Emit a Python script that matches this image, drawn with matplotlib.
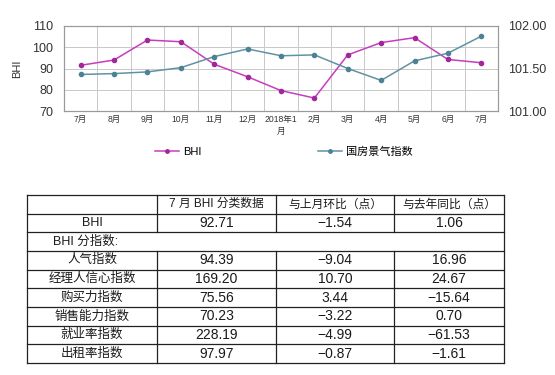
import matplotlib
matplotlib.use("Agg")
import matplotlib.pyplot as plt
from matplotlib.lines import Line2D

plt.rcParams['font.family'] = ['Liberation Sans', 'Noto Sans CJK SC', 'DejaVu Sans']

months = ["7月", "8月", "9月", "10月", "11月", "12月", "2018年1\n月", "2月", "3月", "4月", "5月", "6月", "7月"]
bhi = [91.5, 94.0, 103.4, 102.6, 92.0, 86.1, 79.6, 76.1, 96.4, 102.2, 104.5, 94.25, 92.71]
guofang = [101.43, 101.44, 101.46, 101.51, 101.64, 101.73, 101.65, 101.66, 101.50, 101.36, 101.59, 101.68, 101.88]

table_header = ["", "7 月 BHI 分类数据", "与上月环比（点）", "与去年同比（点）"]
table_names = ["BHI", "人气指数", "经理人信心指数", "购买力指数", "销售能力指数", "就业率指数", "出租率指数"]
table_values = ["92.71", "94.39", "169.20", "75.56", "70.23", "228.19", "97.97"]
table_mom = ["-1.54", "-9.04", "10.70", "3.44", "-3.22", "-4.99", "-0.87"]
table_yoy = ["1.06", "16.96", "24.67", "-15.64", "0.70", "-61.53", "-1.61"]
sub_title = "BHI 分指数:"

W, H = 555, 375
fig = plt.figure(figsize=(W / 100, H / 100), dpi=100)
fig.patch.set_facecolor("white")

# ---- chart ----
ax = fig.add_axes([64 / W, 1 - 111 / H, (498 - 64) / W, (111 - 26) / H])
ax2 = ax.twinx()
x = [i + 0.5 for i in range(len(months))]
c_bhi = "#c83cc0"
c_gf = "#5f93a3"
ax.plot(x, bhi, color=c_bhi, lw=1.1, marker="o", ms=3, mfc="#a0289a", mec="#a0289a", zorder=3)
ax2.plot(x, guofang, color=c_gf, lw=1.1, marker="o", ms=3, mfc="#4c8196", mec="#4c8196", zorder=3)
ax.set_xlim(0, len(months))
ax.set_ylim(70, 110)
ax2.set_ylim(101.0, 102.0)
ax.set_yticks([70, 80, 90, 100, 110])
ax2.set_yticks([101.0, 101.5, 102.0])
ax2.set_yticklabels(["101.00", "101.50", "102.00"])
ax.set_xticks(range(1, len(months)), minor=False)
ax.set_xticklabels([])
ax.grid(True, color="#c8c8c8", lw=0.7)
ax.tick_params(axis="x", length=0)
ax.tick_params(axis="y", length=0, labelsize=9, colors="#333333", pad=8)
ax2.tick_params(axis="y", length=0, labelsize=9, colors="#333333", pad=7)
for a in (ax, ax2):
    for s in a.spines.values():
        s.set_color("#9a9a9a")
        s.set_linewidth(0.8)
for xi, m in zip(x, months):
    ax.text(xi, -0.045, m, transform=ax.get_xaxis_transform(), ha="center", va="top",
            fontsize=6.2, color="#333333", linespacing=1.5)
ax.set_ylabel("BHI", fontsize=8, color="#333333", labelpad=7)

fig.legend(handles=[Line2D([], [], color=c_bhi, marker="o", ms=2.5, lw=1.1, mfc="#a0289a", mec="#a0289a")],
           labels=["BHI"], loc="center", bbox_to_anchor=(178 / W, 1 - 152 / H), frameon=False,
           fontsize=8, handlelength=2.2, handletextpad=0.3)
fig.legend(handles=[Line2D([], [], color=c_gf, marker="o", ms=2.5, lw=1.1, mfc="#4c8196", mec="#4c8196")],
           labels=["国房景气指数"], loc="center", bbox_to_anchor=(365 / W, 1 - 152 / H), frameon=False,
           fontsize=8, handlelength=2.2, handletextpad=0.3)

# ---- table ----
tax = fig.add_axes([0, 0, 1, 1])
tax.set_xlim(0, W)
tax.set_ylim(H, 0)
tax.axis("off")
left, right = 27, 504
cols = [27, 157, 276, 394, 504]
top, bottom = 195, 363
n_rows = 9
rh = (bottom - top) / n_rows
lw = 0.9
lc = "#222222"
for r in range(n_rows + 1):
    y = top + r * rh
    tax.plot([left, right], [y, y], color=lc, lw=lw)
tax.plot([left, left], [top, bottom], color=lc, lw=lw)
tax.plot([right, right], [top, bottom], color=lc, lw=lw)
for cx in cols[1:-1]:
    tax.plot([cx, cx], [top, top + 2 * rh], color=lc, lw=lw)
    tax.plot([cx, cx], [top + 3 * rh, bottom], color=lc, lw=lw)

tfam = ['Liberation Sans', 'Noto Sans CJK SC']
tc = "#1a1a1a"
centers = [(cols[i] + cols[i + 1]) / 2 for i in range(4)]
for i, t in enumerate(table_header):
    if t:
        tax.text(centers[i], top + 0.5 * rh, t, ha="center", va="center",
                 fontsize=8.5, color=tc, family=tfam)
row_idx = [1] + list(range(3, 9))
for k, ri in enumerate(row_idx):
    yc = top + (ri + 0.5) * rh
    vals = [table_names[k], table_values[k], table_mom[k], table_yoy[k]]
    for i, v in enumerate(vals):
        tax.text(centers[i], yc, v.replace("-", "−"), ha="center", va="center",
                 fontsize=9 if i == 0 else 10, color=tc, family=tfam)
tax.text(53, top + 2.5 * rh, sub_title, ha="left", va="center", fontsize=9, color=tc, family=tfam)

fig.savefig("out.png", dpi=100, facecolor="white")
